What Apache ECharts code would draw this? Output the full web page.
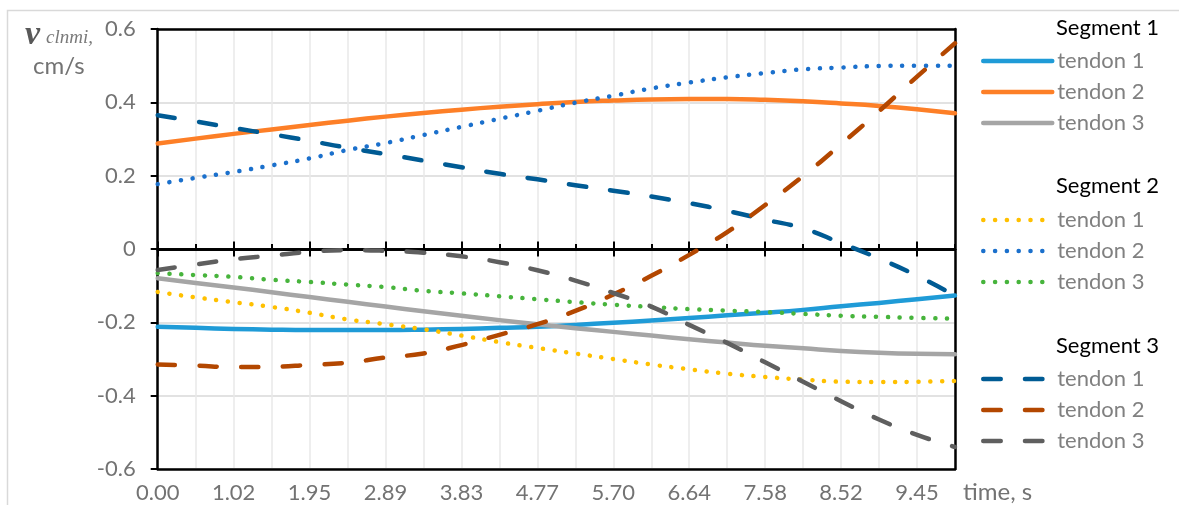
<!DOCTYPE html>
<html><head><meta charset="utf-8">
<script src="https://cdn.jsdelivr.net/npm/echarts@6/dist/echarts.min.js"></script>
<style>html,body{margin:0;padding:0;background:#fff}#main{width:1179px;height:505px}</style>
</head><body><div id="main"></div>
<script>
// ---- data ----
const timeLabels = ['0.00','0.55','1.02','1.48','1.95','2.42','2.89','3.36','3.83','4.30','4.77',
                    '5.23','5.70','6.17','6.64','7.11','7.58','8.05','8.52','8.98','9.45','9.92'];

const seg1Tendon1 = [-0.212,-0.215,-0.218,-0.220,-0.221,-0.221,-0.221,-0.220,-0.218,-0.215,-0.212,
                     -0.207,-0.201,-0.195,-0.188,-0.181,-0.174,-0.166,-0.156,-0.147,-0.137,-0.127];
const seg1Tendon2 = [0.288,0.301,0.314,0.326,0.338,0.350,0.361,0.371,0.380,0.388,0.395,
                     0.401,0.405,0.408,0.409,0.409,0.407,0.403,0.397,0.390,0.381,0.370];
const seg1Tendon3 = [-0.080,-0.093,-0.105,-0.118,-0.131,-0.144,-0.157,-0.170,-0.182,-0.194,-0.205,
                     -0.216,-0.226,-0.236,-0.246,-0.255,-0.264,-0.271,-0.278,-0.283,-0.286,-0.287];

const seg2Tendon1 = [-0.117,-0.132,-0.145,-0.158,-0.174,-0.192,-0.205,-0.219,-0.236,-0.254,-0.270,
                     -0.285,-0.300,-0.315,-0.328,-0.340,-0.349,-0.356,-0.362,-0.363,-0.362,-0.360];
const seg2Tendon2 = [0.177,0.194,0.210,0.228,0.247,0.270,0.289,0.311,0.333,0.355,0.377,
                     0.399,0.418,0.438,0.454,0.468,0.480,0.490,0.495,0.499,0.500,0.500];
const seg2Tendon3 = [-0.066,-0.071,-0.076,-0.084,-0.090,-0.097,-0.104,-0.114,-0.121,-0.129,-0.137,
                     -0.145,-0.152,-0.158,-0.164,-0.168,-0.172,-0.177,-0.182,-0.185,-0.188,-0.190];

const seg3Tendon1 = [0.365,0.348,0.330,0.313,0.295,0.276,0.259,0.241,0.223,0.205,0.190,
                     0.174,0.159,0.143,0.125,0.104,0.080,0.056,0.016,-0.026,-0.073,-0.127];
const seg3Tendon2 = [-0.315,-0.318,-0.322,-0.321,-0.316,-0.310,-0.296,-0.285,-0.262,-0.234,-0.205,
                     -0.169,-0.124,-0.073,-0.016,0.046,0.120,0.199,0.286,0.376,0.470,0.561];
const seg3Tendon3 = [-0.057,-0.042,-0.028,-0.018,-0.008,-0.003,-0.005,-0.010,-0.020,-0.036,-0.058,
                     -0.086,-0.120,-0.157,-0.207,-0.256,-0.309,-0.362,-0.415,-0.465,-0.507,-0.540];

const yMin = -0.6, yMax = 0.6, yStep = 0.2;
const segmentTitles = ['Segment 1','Segment 2','Segment 3'];
const tendonNames = ['tendon 1','tendon 2','tendon 3'];
const xAxisTitle = 'time, s';
const yAxisSymbol = 'v', yAxisSubscript = 'clnmi,', yAxisUnit = 'cm/s';

// ---- styling ----
const FONT = 'Lato';
const LABEL_COLOR = '#737373';
const LW = 4.5;
const DOTTED = [0.1, 11.7];
const DASHED = [17.5, 24.2];

const segData = [
  [seg1Tendon1, seg1Tendon2, seg1Tendon3],
  [seg2Tendon1, seg2Tendon2, seg2Tendon3],
  [seg3Tendon1, seg3Tendon2, seg3Tendon3]
];
const segColors = [
  ['#1f9bd7', '#fd7f27', '#a5a5a5'],
  ['#ffc000', '#1b70cc', '#47b43c'],
  ['#005b94', '#b34700', '#5f5f5f']
];
const segDash = ['solid', DOTTED, DASHED];

const seriesList = [];
const legendNames = [[], [], []];
segData.forEach(function (group, g) {
  group.forEach(function (vals, t) {
    const name = segmentTitles[g] + ' ' + tendonNames[t];
    legendNames[g].push(name);
    seriesList.push({
      name: name, type: 'line', data: vals, xAxisIndex: 0, yAxisIndex: 0,
      symbol: 'none', smooth: true, silent: true,
      lineStyle: { color: segColors[g][t], width: LW, type: segDash[g], cap: 'round', join: 'round' },
      itemStyle: { color: segColors[g][t] },
      emphasis: { disabled: true }
    });
  });
});

const legendTops = [50, 209, 368];
const legendList = legendNames.map(function (names, g) {
  return {
    orient: 'vertical', left: 981, top: legendTops[g], padding: 0,
    itemWidth: 69, itemHeight: 20, itemGap: 9, selectedMode: false,
    data: names,
    formatter: function (n) { return n.replace(/^Segment \d+ /, ''); },
    textStyle: { fontFamily: FONT, fontSize: 22, color: '#808080', lineHeight: 20 },
    itemStyle: { opacity: 0 },
    lineStyle: { width: LW }
  };
});

function txt(x, y, text, size, color, family, extra) {
  const st = { x: x, y: y, text: text, verticalAlign: 'middle', fontSize: size, fontFamily: family, fill: color };
  if (extra) Object.assign(st, extra);
  return { type: 'text', silent: true, style: st };
}

const titleY = [28, 186, 346];
const graphicList = [
  { type: 'rect', silent: true, z: -10,
    shape: { x: 7.5, y: 10.5, width: 1400, height: 600 },
    style: { fill: 'none', stroke: '#d9d9d9', lineWidth: 1.5 } },
  txt(25, 35, yAxisSymbol, 34, '#595959', 'Liberation Serif', { fontStyle: 'italic', fontWeight: 'bold' }),
  txt(46, 38, yAxisSubscript, 19, '#7a7a7a', 'Liberation Serif', { fontStyle: 'italic' }),
  txt(33, 66, yAxisUnit, 24, LABEL_COLOR, FONT),
  txt(963, 492, xAxisTitle, 24, LABEL_COLOR, FONT)
];
segmentTitles.forEach(function (s, g) {
  graphicList.push(txt(1056, titleY[g], s, 22, '#000', FONT));
});

const tickLine = { color: '#000', width: 2 };
const frameLine = { color: '#000', width: 2.5 };
function zeroAxis(tick) {
  return {
    type: 'category', data: timeLabels, boundaryGap: false, position: 'bottom',
    axisLine: { show: true, onZero: true, onZeroAxisIndex: 0, lineStyle: frameLine },
    axisTick: tick,
    axisLabel: { show: false }, splitLine: { show: false }
  };
}

const chartOption = {
  animation: false,
  backgroundColor: '#fff',
  grid: { left: 157.7, right: 224, top: 29, bottom: 36, show: false, outerBoundsMode: 'none' },
  xAxis: [
    { type: 'category', data: timeLabels, boundaryGap: false, position: 'bottom',
      axisLine: { show: true, onZero: false, lineStyle: frameLine },
      axisTick: { show: false },
      axisLabel: { interval: 1, margin: 13, fontFamily: FONT, fontSize: 22, color: LABEL_COLOR },
      splitLine: { show: true, interval: 0, lineStyle: { color: '#e9e9e9', width: 1.5 } } },
    zeroAxis({ show: true, interval: 0, inside: true, length: 5, lineStyle: tickLine }),
    zeroAxis({ show: true, interval: 1, inside: true, length: 7.5, lineStyle: tickLine }),
    zeroAxis({ show: true, interval: 1, inside: false, length: 7.5, lineStyle: tickLine }),
    { type: 'category', data: timeLabels, boundaryGap: false, position: 'top',
      axisLine: { show: true, onZero: false, lineStyle: frameLine },
      axisTick: { show: false }, axisLabel: { show: false }, splitLine: { show: false } }
  ],
  yAxis: [
    { type: 'value', min: yMin, max: yMax, interval: yStep, position: 'left',
      axisLine: { show: true, onZero: false, lineStyle: frameLine },
      axisTick: { show: true, length: 7, lineStyle: tickLine },
      axisLabel: { margin: 22, fontFamily: FONT, fontSize: 22, color: LABEL_COLOR,
        formatter: function (v) { return Math.abs(v) < 1e-9 ? '0' : v.toFixed(1); } },
      splitLine: { lineStyle: { color: '#d9d9d9', width: 1.5 } } },
    { type: 'value', min: yMin, max: yMax, interval: yStep, position: 'right',
      axisLine: { show: true, onZero: false, lineStyle: frameLine },
      axisTick: { show: false }, axisLabel: { show: false }, splitLine: { show: false } }
  ],
  legend: legendList,
  graphic: graphicList,
  series: seriesList
};

const myChart = echarts.init(document.getElementById('main'));
myChart.setOption(chartOption);
</script></body></html>
